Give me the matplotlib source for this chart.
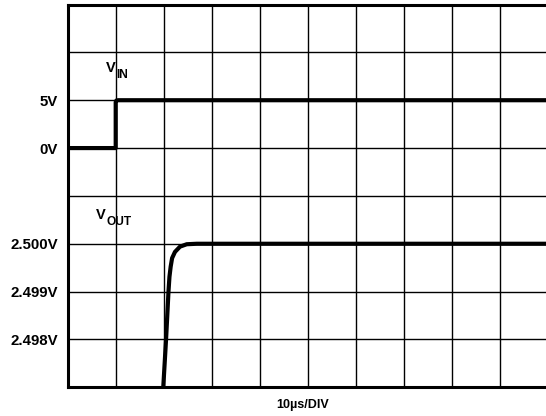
import numpy as np
import matplotlib
import matplotlib.pyplot as plt

matplotlib.use("Agg")

# ── data (time in µs, voltages in V) ─────────────────────────────────────────
t_in = [0, 10, 10, 10.15, 10.5, 100]
v_in = [0, 0, 4.8, 4.97, 5.0, 5.0]

t_out = [19.85, 20.5, 21.0, 21.2, 21.45, 21.75, 22.35, 23.4, 24.8, 26.9, 100]
v_out = [2.4969, 2.49802, 2.49901, 2.49931, 2.49952, 2.49970, 2.49983,
         2.49994, 2.49999, 2.5000, 2.5000]

y_ticks = [1, 2, 3, 5, 6]
y_labels = ["2.498V", "2.499V", "2.500V", "0V", "5V"]

# scope screen: VIN at 5V/div with 0V on div 5, VOUT at 1mV/div with 2.500V on div 3
vin_div = [5 + v / 5 for v in v_in]
vout_div = [3 + (v - 2.5) / 0.001 for v in v_out]

plt.rcParams["font.family"] = ["Liberation Sans", "DejaVu Sans"]
plt.rcParams["font.weight"] = "bold"

fig = plt.figure(figsize=(5.46, 4.16), dpi=100)
ax = fig.add_axes([0.124, 0.069, 0.8791, 0.9201])

ax.plot(t_in, vin_div, color="black", lw=3, solid_joinstyle="round", zorder=3)
ax.plot(t_out, vout_div, color="black", lw=3, solid_joinstyle="round", zorder=3)

ax.set_xlim(0, 100)
ax.set_ylim(0, 8)

# grid: 10 x 8 divisions
ax.set_xticks(np.arange(0, 101, 10))
ax.set_xticklabels([])
ax.set_yticks(np.arange(0, 9), minor=True)
ax.set_yticks(y_ticks)
ax.set_yticklabels(y_labels, fontsize=10.8, fontweight="bold")
ax.tick_params(axis="both", which="both", length=0, pad=7)
ax.grid(True, which="both", color="black", lw=1.0)
ax.set_axisbelow(True)

for side in ["left", "top", "bottom"]:
    ax.spines[side].set_linewidth(2.2)
ax.spines["right"].set_visible(False)

# trace labels
ax.text(7.98, 6.58, "V", fontsize=10.5, fontweight="bold", va="baseline")
ax.text(10.2, 6.46, "IN", fontsize=8.6, fontweight="bold", va="baseline")
ax.text(5.9, 3.51, "V", fontsize=10.5, fontweight="bold", va="baseline")
ax.text(7.98, 3.39, "OUT", fontsize=8.6, fontweight="bold", va="baseline")

fig.text(303 / 546, 1 - 405 / 416, "10µs/DIV", fontsize=9, fontweight="bold",
         ha="center", va="center")

plt.savefig("out.png", dpi=100)
